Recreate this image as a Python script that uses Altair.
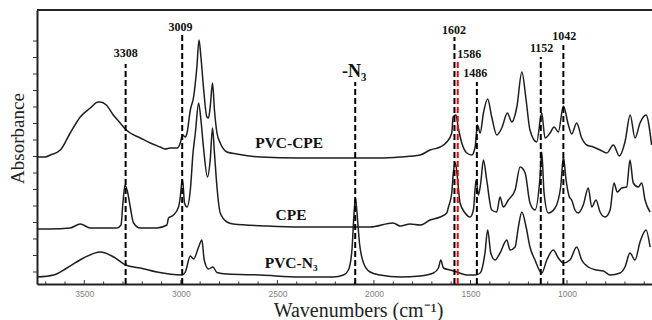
import altair as alt
import pandas as pd

# ---- spectra (wavenumber cm-1, absorbance a.u. with vertical offsets) ----
pvc_cpe_wn = [3743, 3702, 3676, 3624, 3573, 3521, 3469, 3428, 3417, 3386, 3350, 3314, 3288, 3262, 3210,
              3158, 3107, 3081, 3055, 3019, 3003, 2991, 2977, 2968, 2951, 2934, 2917, 2906, 2896, 2883,
              2865, 2857, 2848, 2836, 2826, 2813, 2796, 2761, 2710, 2589, 2382, 2175, 1968, 1864, 1761,
              1709, 1657, 1623, 1597, 1590, 1575, 1564, 1545, 1519, 1493, 1476, 1464, 1450, 1433, 1411,
              1390, 1364, 1338, 1309, 1286, 1260, 1234, 1212, 1192, 1157, 1131, 1114, 1088, 1067, 1045,
              1019, 993, 976, 950, 924, 898, 864, 829, 794, 760, 729, 700, 673, 648, 622, 591, 562]
pvc_cpe_ab = [127, 127, 129, 134, 151, 167, 176, 182, 182, 179, 169, 161, 155, 151, 146,
              141, 137, 135, 136, 136, 141, 149, 147, 151, 174, 187, 217, 244, 227, 197,
              167, 166, 177, 201, 174, 151, 141, 132, 130, 127, 126, 126, 126, 127, 129,
              134, 137, 142, 151, 167, 169, 157, 141, 131, 129, 137, 159, 151, 171, 185,
              167, 149, 156, 171, 162, 177, 212, 184, 154, 142, 171, 146, 151, 157, 152,
              178, 159, 150, 161, 146, 139, 137, 134, 131, 139, 128, 142, 169, 146, 161, 169, 139]

cpe_wn = [3743, 3676, 3573, 3521, 3469, 3331, 3310, 3300, 3289, 3276, 3262, 3245, 3210, 3124, 3072,
          3064, 3038, 3012, 3003, 2994, 2991, 2981, 2968, 2951, 2937, 2925, 2908, 2896, 2883, 2862,
          2848, 2836, 2826, 2813, 2796, 2761, 2729, 2555, 2382, 2175, 2020, 1901, 1864, 1813, 1761,
          1709, 1657, 1623, 1614, 1597, 1589, 1578, 1568, 1554, 1528, 1502, 1485, 1471, 1459, 1447,
          1433, 1416, 1390, 1364, 1347, 1330, 1304, 1269, 1243, 1217, 1192, 1166, 1140, 1131, 1119,
          1097, 1062, 1033, 1019, 1005, 988, 976, 959, 942, 916, 890, 872, 850, 829, 803,
          777, 757, 740, 717, 691, 674, 657, 631, 613, 596, 570]
cpe_ab = [55, 55, 56, 60, 56, 56, 59, 81, 99, 92, 77, 61, 56, 56, 59,
          66, 69, 77, 87, 103, 104, 81, 77, 94, 131, 151, 181, 164, 137, 107,
          124, 156, 131, 97, 71, 62, 60, 58, 57, 57, 57, 61, 58, 60, 59,
          64, 67, 71, 77, 91, 111, 121, 107, 81, 71, 67, 74, 104, 89, 101,
          124, 104, 74, 72, 87, 77, 84, 94, 117, 111, 81, 74, 107, 132, 91,
          71, 76, 97, 127, 104, 87, 84, 74, 71, 79, 96, 77, 84, 72, 67,
          74, 101, 92, 96, 97, 124, 101, 97, 101, 84, 72]

pvc_n3_wn = [3743, 3659, 3590, 3504, 3417, 3348, 3286, 3210, 3124, 2994, 2977, 2951, 2934, 2908, 2891,
             2879, 2857, 2834, 2813, 2761, 2589, 2382, 2211, 2158, 2132, 2114, 2102, 2096, 2089, 2075,
             2054, 2020, 1968, 1864, 1761, 1692, 1666, 1654, 1640, 1606, 1571, 1519, 1476, 1450, 1425,
             1411, 1395, 1373, 1347, 1312, 1295, 1269, 1252, 1234, 1212, 1192, 1166, 1131, 1105, 1071,
             1045, 1019, 985, 950, 924, 890, 846, 812, 777, 726, 700, 674, 648, 622, 591, 570]
pvc_n3_ab = [7, 9, 16, 26, 32, 27, 19, 16, 12, 9, 12, 28, 25, 37, 44,
             24, 15, 17, 11.5, 10, 9, 7, 7, 9, 14, 34, 74, 86, 74, 41,
             21, 12, 9, 7, 8, 11, 16, 24, 16, 14, 12, 9, 9, 11, 31,
             54, 31, 24, 31, 44, 34, 37, 57, 72, 57, 37, 24, 11, 24, 34,
             26, 21, 24, 37, 24, 17, 14, 13, 9, 11, 17, 31, 24, 42, 54, 37]

# ---- annotations ----
mark_wn = [3286, 2993, 2097, 1583, 1566, 1467, 1136, 1019]
mark_top = [220, 249, 202, 247, 224, 202, 227, 239]
mark_color = ["black", "black", "black", "black", "red", "black", "black", "black"]
mark_text = ["3308", "3009", "", "1602", "1586", "1486", "1152", "1042"]
mark_text_wn = [3286, 3002, 2102, 1585, 1506, 1476, 1132, 1014]
mark_text_ab = [227, 253, 207, 250.5, 226, 207, 232, 244]

curve_label = ["PVC-CPE", "CPE", "PVC-N₃"]
curve_label_wn = [2439, 2429, 2429]
curve_label_ab = [136, 64, 16]

x_ticks = [1000, 1500, 2000, 2500, 3000, 3500]
x_minor = [600, 700, 800, 900, 1100, 1200, 1300, 1400, 1600, 1700, 1800, 1900, 2100, 2200, 2300, 2400,
           2600, 2700, 2800, 2900, 3100, 3200, 3300, 3400, 3600, 3700]
y_ticks = [12, 28.5, 45, 61.5, 78, 94.5, 111, 127.5, 144, 160.5, 177, 193.5, 210, 226.5, 243]

rows = []
for name, wn, ab in [("PVC-CPE", pvc_cpe_wn, pvc_cpe_ab), ("CPE", cpe_wn, cpe_ab), ("PVC-N3", pvc_n3_wn, pvc_n3_ab)]:
    for w, a in zip(wn, ab):
        rows.append({"series": name, "wn": w, "ab": a})
spec = pd.DataFrame(rows)

marks = pd.DataFrame({"wn": mark_wn, "top": mark_top, "color": mark_color, "zero": [0] * len(mark_wn)})
mlabels = pd.DataFrame({"wn": mark_text_wn, "ab": mark_text_ab, "text": mark_text})
n3 = mlabels[mlabels["text"] == ""].copy()
n3["text"] = "-N₃"
mlabels = mlabels[mlabels["text"] != ""]
clabels = pd.DataFrame({"wn": curve_label_wn, "ab": curve_label_ab, "text": curve_label})

tick_df = pd.DataFrame({"wn": x_ticks + x_minor,
                        "len": [4] * len(x_ticks) + [2.5] * len(x_minor),
                        "zero": [0] * (len(x_ticks) + len(x_minor))})
ytick_df = pd.DataFrame({"ab": y_ticks})

W, H = 615, 274
xscale = alt.Scale(domain=[560, 3745], reverse=True, nice=False, zero=False)
yscale = alt.Scale(domain=[0, 274], nice=False, zero=False)

xax = alt.Axis(values=x_ticks, format="d", title="Wavenumbers (cm⁻¹)", grid=False, ticks=False,
               domainColor="#222", domainWidth=2, labelFont="Liberation Sans", labelFontSize=8.5,
               labelColor="#808080", labelPadding=5, labelFontWeight="normal",
               titleFont="Liberation Serif", titleFontSize=20, titleFontWeight="normal",
               titleColor="#222", titleX=321, titleY=32, titleBaseline="alphabetic", titleAlign="center")
yax = alt.Axis(values=y_ticks, labels=False, ticks=False, title="Absorbance", grid=False,
               domainColor="#222", domainWidth=2,
               titleFont="Liberation Serif", titleFontSize=19, titleFontWeight="normal",
               titleColor="#222", titleX=-14, titleY=128, titleAngle=270, titleBaseline="alphabetic",
               titleAlign="center")

lines = alt.Chart(spec).mark_line(color="#1e1e1e", strokeWidth=1.5, clip=True,
                                  interpolate="monotone").encode(
    x=alt.X("wn:Q", scale=xscale, axis=xax),
    y=alt.Y("ab:Q", scale=yscale, axis=yax),
    detail="series:N",
    order="wn:Q",
)

xticks_in = alt.Chart(tick_df).mark_rule(color="#333", strokeWidth=1).encode(
    x=alt.X("wn:Q", scale=xscale),
    y=alt.Y("zero:Q", scale=yscale),
    y2="len:Q",
)

yticks_out = alt.Chart(ytick_df).mark_rule(color="#333", strokeWidth=1).encode(
    y=alt.Y("ab:Q", scale=yscale),
    x=alt.value(-4),
    x2=alt.value(0),
)

rules = alt.Chart(marks).mark_rule(strokeWidth=2, strokeDash=[6, 3]).encode(
    x=alt.X("wn:Q", scale=xscale),
    y=alt.Y("zero:Q", scale=yscale),
    y2="top:Q",
    color=alt.Color("color:N", scale=None),
)

mtext = alt.Chart(mlabels).mark_text(font="Liberation Serif", fontWeight="bold", fontSize=12,
                                     color="#111", baseline="alphabetic").encode(
    x=alt.X("wn:Q", scale=xscale), y=alt.Y("ab:Q", scale=yscale), text="text:N")

n3text = alt.Chart(n3).mark_text(font="Liberation Serif", fontWeight="bold", fontSize=18,
                                 color="#111", baseline="alphabetic").encode(
    x=alt.X("wn:Q", scale=xscale), y=alt.Y("ab:Q", scale=yscale), text="text:N")

ctext = alt.Chart(clabels).mark_text(font="Liberation Serif", fontWeight="bold", fontSize=15.5,
                                     color="#111", baseline="alphabetic").encode(
    x=alt.X("wn:Q", scale=xscale), y=alt.Y("ab:Q", scale=yscale), text="text:N")

top = alt.Chart(pd.DataFrame({"a": [0]})).mark_rule(color="#222", strokeWidth=2).encode(
    x=alt.value(0), x2=alt.value(W), y=alt.value(0))

chart = alt.layer(lines, xticks_in, yticks_out, rules, mtext, n3text, ctext, top).properties(
    width=W, height=H,
    autosize=alt.AutoSizeParams(type="none"),
    padding={"left": 37, "top": 10, "right": 0, "bottom": 36},
).configure_view(stroke=None).configure(background="white")

chart.save("out.html", embed_options={"renderer": "svg", "actions": False})
